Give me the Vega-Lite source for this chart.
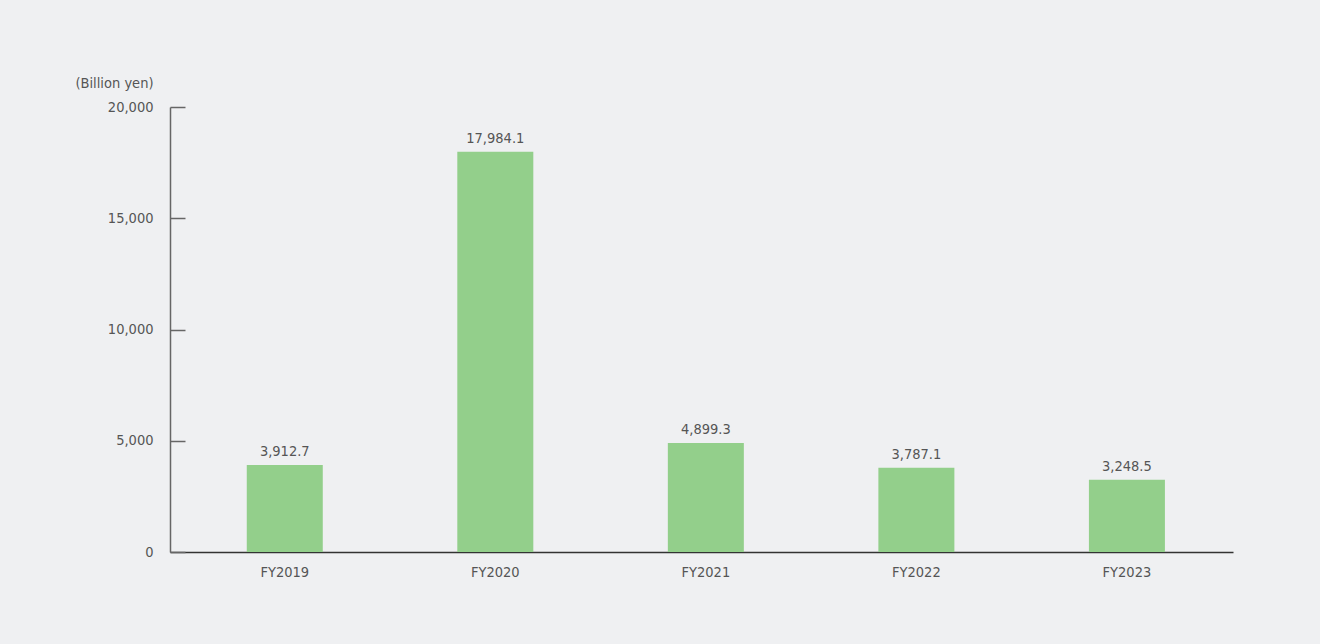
{
  "$schema": "https://vega.github.io/schema/vega-lite/v6.json",
  "width": 1063,
  "height": 445,
  "autosize": {"type": "none"},
  "padding": {"left": 170, "top": 107, "right": 87, "bottom": 92},
  "background": "#eff0f2",
  "config": {
    "view": {"stroke": null},
    "font": "'DejaVu Sans Condensed', Roboto, sans-serif"
  },
  "data": {
    "values": [
      {"year": "FY2019", "value": 3912.7},
      {"year": "FY2020", "value": 17984.1},
      {"year": "FY2021", "value": 4899.3},
      {"year": "FY2022", "value": 3787.1},
      {"year": "FY2023", "value": 3248.5}
    ]
  },
  "encoding": {
    "x": {
      "field": "year",
      "type": "nominal",
      "sort": null,
      "scale": {"paddingInner": 0.639, "paddingOuter": 0.344, "align": 0.53},
      "axis": {
        "title": null,
        "labelAngle": 0,
        "ticks": false,
        "domainColor": "#333333",
        "domainWidth": 1.5,
        "labelColor": "#555555",
        "labelFontSize": 14.5,
        "labelPadding": 13,
        "labelFont": "'DejaVu Sans Condensed', Roboto, sans-serif"
      }
    },
    "y": {
      "field": "value",
      "type": "quantitative",
      "scale": {"domain": [0, 20000], "nice": false},
      "axis": {
        "values": [0, 5000, 10000, 15000, 20000],
        "format": ",.0f",
        "grid": false,
        "tickSize": -15,
        "tickColor": "#666666",
        "tickWidth": 1.5,
        "domainColor": "#666666",
        "domainWidth": 1.5,
        "labelColor": "#555555",
        "labelFontSize": 14.5,
        "labelPadding": 32,
        "labelFont": "'DejaVu Sans Condensed', Roboto, sans-serif",
        "title": "(Billion yen)",
        "titleAngle": 0,
        "titleAlign": "right",
        "titleBaseline": "middle",
        "titleX": -17,
        "titleY": -24,
        "titleFontWeight": "normal",
        "titleFontSize": 14.5,
        "titleColor": "#555555",
        "titleFont": "'DejaVu Sans Condensed', Roboto, sans-serif"
      }
    }
  },
  "layer": [
    {"mark": {"type": "bar", "color": "#93cf8b"}},
    {
      "mark": {"type": "text", "baseline": "bottom", "dy": -6, "fontSize": 14.5, "color": "#555555", "font": "'DejaVu Sans Condensed', Roboto, sans-serif"},
      "encoding": {"text": {"field": "value", "type": "quantitative", "format": ",.1f"}}
    }
  ]
}
